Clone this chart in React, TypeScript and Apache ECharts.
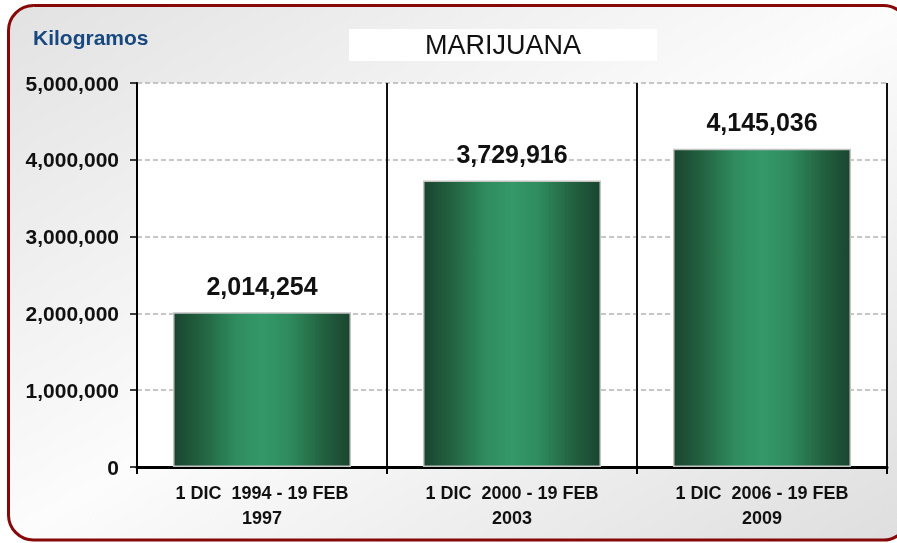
import React, { useEffect, useRef } from "react";
import * as echarts from "echarts";

const categories = [
  "1 DIC  1994 - 19 FEB\n1997",
  "1 DIC  2000 - 19 FEB\n2003",
  "1 DIC  2006 - 19 FEB\n2009",
];
const values = [2014254, 3729916, 4145036];
const yTicks = { min: 0, max: 5000000, interval: 1000000 };
const chartTitle = "MARIJUANA";
const unitLabel = "Kilogramos";

const FONT = "'Liberation Sans', Arial, Helvetica, sans-serif";
const fmt = (v: number) => v.toLocaleString("en-US");

export default function App() {
  const ref = useRef<HTMLDivElement>(null);
  useEffect(() => {
    if (!ref.current) return;
    const chart = echarts.init(ref.current, null, { renderer: "svg" });
    const barGrad = new echarts.graphic.LinearGradient(0, 0, 1, 0, [
      { offset: 0, color: "#1a4530" },
      { offset: 0.15, color: "#22603f" },
      { offset: 0.35, color: "#2f8c5e" },
      { offset: 0.5, color: "#349868" },
      { offset: 0.65, color: "#2f8c5e" },
      { offset: 0.85, color: "#22603f" },
      { offset: 1, color: "#1a4530" },
    ]);
    chart.setOption({
      animation: false,
      backgroundColor: "transparent",
      graphic: [
        {
          type: "rect",
          z: -10,
          shape: { x: 8.5, y: 5.5, width: 900, height: 534.5, r: 25 },
          style: {
            fill: new echarts.graphic.LinearGradient(0, 0, 1, 1, [
              { offset: 0, color: "#e2e2e2" },
              { offset: 0.5, color: "#fcfcfc" },
              { offset: 1, color: "#dedede" },
            ]),
            stroke: "#870808",
            lineWidth: 3,
          },
          silent: true,
        },
        {
          type: "rect",
          z: 1,
          shape: { x: 349, y: 29, width: 308, height: 32 },
          style: { fill: "#ffffff" },
          silent: true,
        },
        {
          type: "text",
          z: 2,
          x: 503,
          y: 45,
          style: {
            text: chartTitle,
            font: `normal 27px ${FONT}`,
            fill: "#111111",
            align: "center",
            verticalAlign: "middle",
          },
        },
        {
          type: "text",
          z: 2,
          x: 33,
          y: 37,
          style: {
            text: unitLabel,
            font: `bold 21px ${FONT}`,
            fill: "#17487f",
            align: "left",
            verticalAlign: "middle",
          },
        },
      ],
      grid: {
        left: 137,
        right: 10,
        top: 83,
        bottom: 76,
        show: true,
        backgroundColor: "#ffffff",
        borderWidth: 0,
      },
      xAxis: {
        type: "category",
        data: categories,
        boundaryGap: true,
        axisLine: { show: true, lineStyle: { color: "#000", width: 3 } },
        axisTick: { show: true, length: 7, lineStyle: { color: "#000", width: 2 } },
        splitLine: { show: true, interval: 0, lineStyle: { color: "#111", width: 2 } },
        axisLabel: {
          interval: 0,
          margin: 13,
          color: "#111",
          fontFamily: FONT,
          fontWeight: "bold",
          fontSize: 18,
          lineHeight: 25,
          align: "center",
        },
      },
      yAxis: {
        type: "value",
        min: yTicks.min,
        max: yTicks.max,
        interval: yTicks.interval,
        axisLine: { show: true, lineStyle: { color: "#000", width: 2 } },
        axisTick: { show: true, length: 7, lineStyle: { color: "#000", width: 1.5 } },
        splitLine: {
          show: true,
          lineStyle: { color: "#b5b5b5", width: 1.5, type: [5, 3] },
        },
        axisLabel: {
          margin: 18,
          color: "#111",
          fontFamily: FONT,
          fontWeight: "bold",
          fontSize: 21,
          formatter: (v: number) => fmt(v),
        },
      },
      series: [
        {
          type: "bar",
          data: values,
          barWidth: 178,
          itemStyle: {
            color: barGrad,
            borderColor: "#c4c4c4",
            borderWidth: 1.5,
          },
          label: {
            show: true,
            position: "top",
            distance: 14,
            color: "#111",
            fontFamily: FONT,
            fontWeight: "bold",
            fontSize: 25,
            formatter: (p: any) => fmt(p.value),
          },
        },
      ],
    });
    return () => chart.dispose();
  }, []);
  return (
    <div
      ref={ref}
      style={{ position: "fixed", left: 0, top: 0, width: 897, height: 543 }}
    />
  );
}
